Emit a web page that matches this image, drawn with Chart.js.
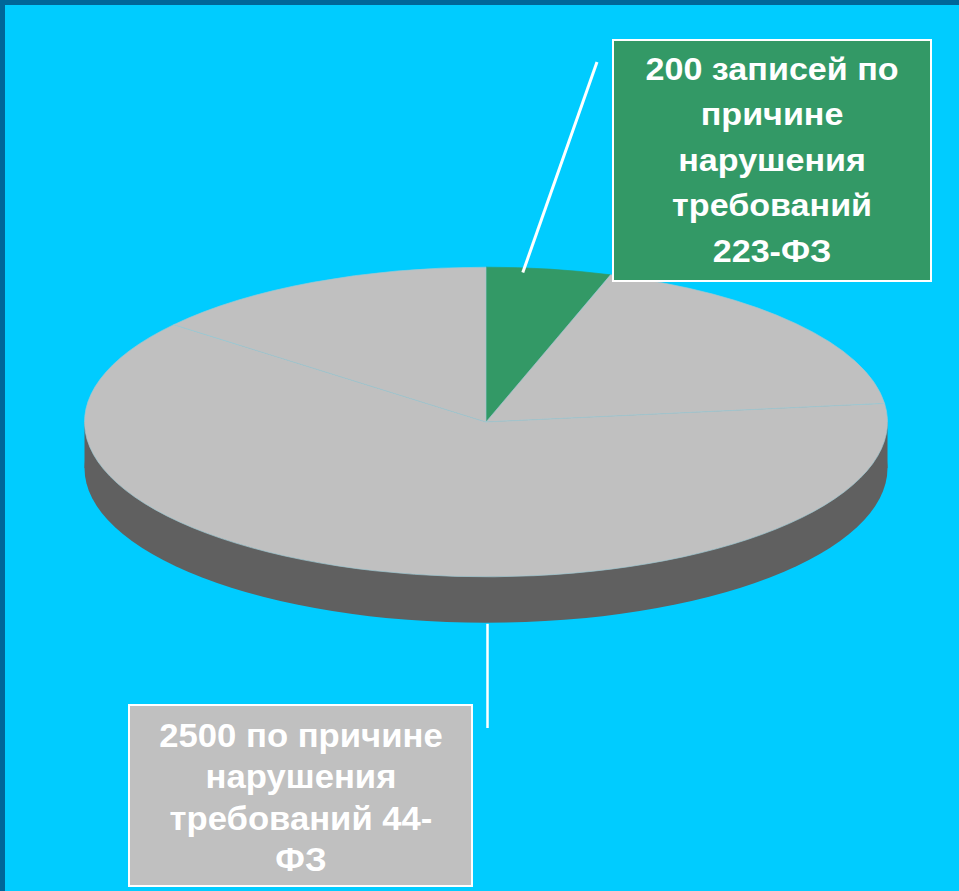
<!DOCTYPE html>
<html lang="ru">
<head>
<meta charset="utf-8">
<title>Записи по причине нарушения требований</title>
<script src="https://cdn.jsdelivr.net/npm/chart.js@4.4.1/dist/chart.umd.min.js"></script>
<style>
  html, body { margin: 0; padding: 0; }
  body {
    width: 959px; height: 891px; position: relative; overflow: hidden;
    background: #00ccff;
    font-family: "Liberation Sans", Arial, sans-serif;
  }
  #wrap { position: absolute; left: 0; top: 0; width: 959px; height: 891px; }
  .edge { position: absolute; background: #006699; }
  .box {
    position: absolute; box-sizing: border-box;
    border: 2px solid #ffffff; color: #ffffff;
    font-weight: bold; text-align: center;
    display: flex; align-items: center; justify-content: center;
  }
  .box > div { white-space: nowrap; }
  #box223 > div { transform: scaleX(1.1); }
  #box44 > div { transform: translateY(2px) scaleX(1.05); }
</style>
</head>
<body>
<div id="wrap"><canvas id="pieChart"></canvas></div>
<div class="edge" style="left:0;top:0;width:959px;height:5px"></div>
<div class="edge" style="left:0;top:0;width:5px;height:891px"></div>
<div id="box223" class="box" style="left:612px;top:39px;width:320px;height:243px;background:#339966;font-size:31px;line-height:45.5px"></div>
<div id="box44" class="box" style="left:128px;top:704px;width:345px;height:183px;background:#c0c0c0;font-size:33px;line-height:41.5px"></div>
<script>
// slices, clockwise from 12 o'clock
const categories = ['223-ФЗ', '', '44-ФЗ', ''];
const records = [200, 720, 2500, 565];
const sliceColors = ['#339966', '#c0c0c0', '#c0c0c0', '#c0c0c0'];
const edgeColors = ['#339966', '#9ec8d2', '#9ec8d2', '#9ec8d2'];

// label texts, one entry per line
const label223 = ['200 записей по', 'причине', 'нарушения', 'требований', '223-ФЗ'];
const label44 = ['2500 по причине', 'нарушения', 'требований 44-', 'ФЗ'];

const tilt = 0.3856;   // ellipse height / width
const depth = 46;      // thickness of the disc in px
const sideColor = '#606060';

document.getElementById('box223').innerHTML = '<div>' + label223.join('<br>') + '</div>';
document.getElementById('box44').innerHTML = '<div>' + label44.join('<br>') + '</div>';

function drawLeader(ctx, x1, y1, x2, y2, w) {
  ctx.save();
  ctx.strokeStyle = '#ffffff';
  ctx.lineWidth = w;
  ctx.beginPath();
  ctx.moveTo(x1, y1);
  ctx.lineTo(x2, y2);
  ctx.stroke();
  ctx.restore();
}

// squash the pie into an ellipse and give it a dark side wall
const pie3d = {
  id: 'pie3d',
  beforeDatasetsDraw(chart) {
    const arc = chart.getDatasetMeta(0).data[0];
    if (!arc) return;
    const ctx = chart.ctx;
    const cx = arc.x, cy = arc.y, r = arc.outerRadius;
    ctx.save();
    ctx.translate(cx, cy);
    ctx.scale(1, tilt);
    ctx.fillStyle = sideColor;
    ctx.beginPath();
    ctx.rect(-r, 0, 2 * r, depth / tilt);
    ctx.fill();
    ctx.beginPath();
    ctx.arc(0, depth / tilt, r, 0, Math.PI * 2);
    ctx.fill();
    ctx.translate(-cx, -cy);
  },
  afterDatasetsDraw(chart) {
    const ctx = chart.ctx;
    ctx.restore();
    const meta = chart.getDatasetMeta(0);
    const green = meta.data[0];
    if (!green) return;
    const cx = green.x, cy = green.y, r = green.outerRadius;

    // leader into the 223-ФЗ slice
    const a = green.startAngle + 0.3 * (green.endAngle - green.startAngle);
    const gx = cx + 0.97 * r * Math.cos(a);
    const gy = cy + 0.97 * r * Math.sin(a) * tilt;
    drawLeader(ctx, gx, gy, 597, 62, 3);

    // leader down from the 44-ФЗ slice
    drawLeader(ctx, cx + 1.5, cy + r * tilt + depth + 1, cx + 1.5, 728, 2.5);
  }
};

const ctx = document.getElementById('pieChart').getContext('2d');
const pieChart = new Chart(ctx, {
  type: 'pie',
  data: {
    labels: categories,
    datasets: [{
      data: records,
      backgroundColor: sliceColors,
      borderColor: edgeColors,
      borderWidth: 1,
      clip: false
    }]
  },
  options: {
    responsive: true,
    maintainAspectRatio: false,
    animation: false,
    events: [],
    layout: { padding: { left: 84, right: 71, top: 20, bottom: 67 } },
    plugins: {
      legend: { display: false },
      tooltip: { enabled: false }
    }
  },
  plugins: [pie3d]
});
</script>
</body>
</html>
